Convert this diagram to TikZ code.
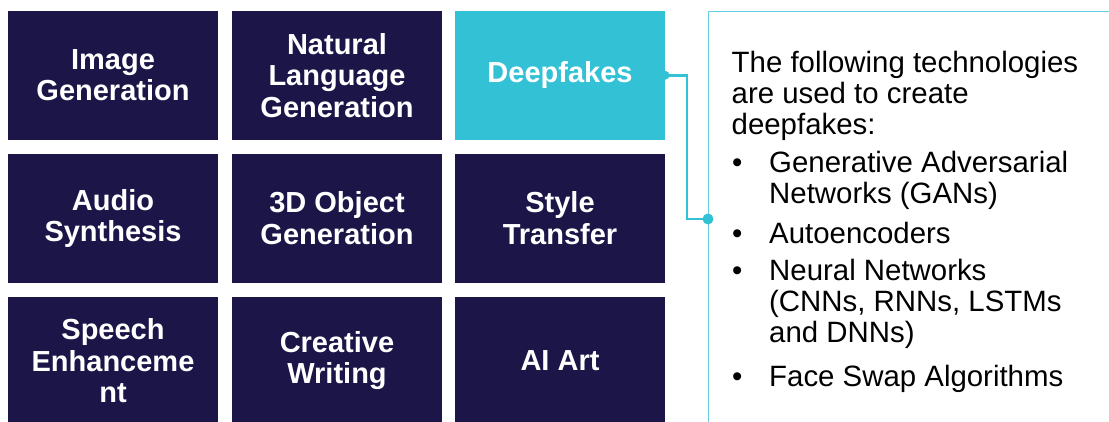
\documentclass[tikz,border=0pt]{standalone}
\usepackage{fontspec}
\setmainfont{Liberation Sans}
\usepackage{xcolor}
\usetikzlibrary{positioning}
\definecolor{navy}{RGB}{27,21,72}
\definecolor{dfcyan}{RGB}{51,193,214}
\definecolor{panelline}{RGB}{104,206,226}

\begin{document}
\begin{tikzpicture}[x=1pt,y=-1pt,
   tile/.style={fill=navy,text=white,minimum width=210pt,minimum height=128.5pt,
     inner sep=0pt,outer sep=0pt,align=center,font=\fontsize{29}{31.5}\selectfont\bfseries},
   hottile/.style={tile,fill=dfcyan},
   bodytext/.style={anchor=base west,inner sep=0pt,align=left,font=\fontsize{29.4}{31}\selectfont},
   link/.style={dfcyan,line width=2.5pt}]
   \useasboundingbox (0,0) rectangle (1109,421);
   \clip (0,0) rectangle (1109,421);
   % the 3x3 grid of tiles
   \node[tile,anchor=north west] (imagegen) at (8,11) {Image\\Generation};
   \node[tile,right=14pt of imagegen] (nlg) {Natural\\Language\\Generation};
   \node[hottile,right=13pt of nlg] (deepfakes) {Deepfakes};
   \node[tile,below=14.5pt of imagegen] (audio) {Audio\\Synthesis};
   \node[tile,right=14pt of audio] (object3d) {3D Object\\Generation};
   \node[tile,right=13pt of object3d] (style) {Style\\Transfer};
   \node[tile,below=14pt of audio] (speech) {Speech\\Enhanceme\\nt};
   \node[tile,right=14pt of speech] (writing) {Creative\\Writing};
   \node[tile,right=13pt of writing] (aiart) {AI Art};
   % side panel, runs off the right and bottom edge
   \node[draw=panelline,line width=1pt,minimum width=420pt,minimum height=420pt,
     inner sep=0pt,anchor=north west] (techpanel) at (708,11) {};
   % base of a multi-line node is its last line
   \node[bodytext] (intro) at (731.5,134.5) {The following technologies\\are used to create\\deepfakes:};
   \foreach \by/\ty/\name/\txt in {172.5/203.5/gans/{Generative Adversarial\\Networks (GANs)},
       243/243/autoenc/{Autoencoders},
       280.5/342.5/neural/{Neural Networks\\(CNNs, RNNs, LSTMs\\and DNNs)},
       386.5/386.5/faceswap/{Face Swap Algorithms}}{
     \node[bodytext] (dot-\name) at (732,\by) {•};
     \node[bodytext] (\name) at (769,\ty) {\txt};
   }
   % connector from the tile to the panel
   \coordinate (hook) at (708,219);
   \draw[link] (deepfakes.east) -- ++(22,0) |- (hook);
   \fill[dfcyan] (deepfakes.east) circle (4.5pt) (hook) circle (5.5pt);
   %\node[below] at (deepfakes.south) {};
\end{tikzpicture}
\end{document}
